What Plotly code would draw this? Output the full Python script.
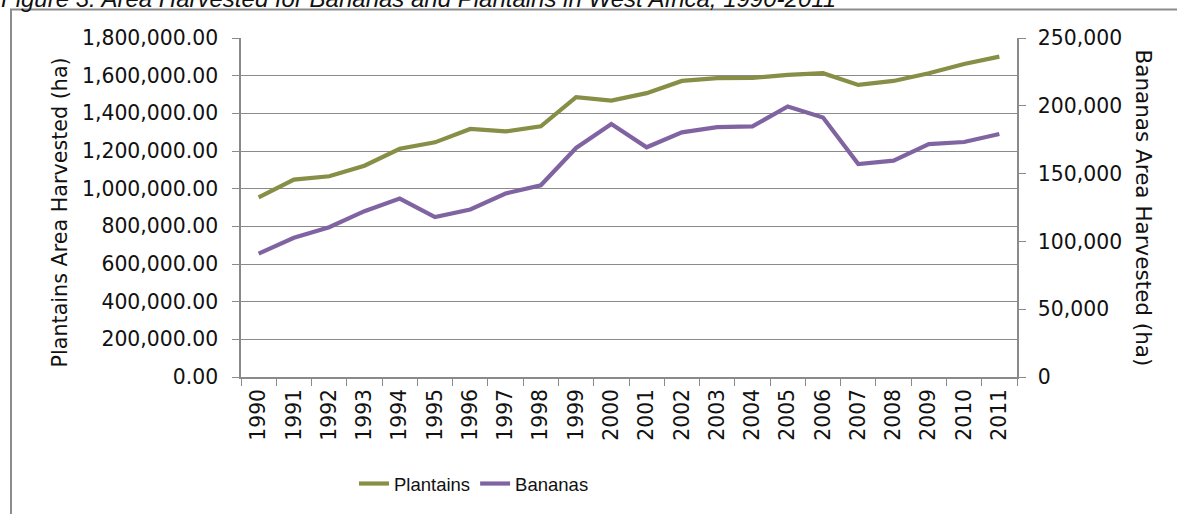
import plotly.graph_objects as go

years = [str(y) for y in range(1990, 2012)]
plantains = [954000, 1048000, 1066000, 1122000, 1212000, 1246000, 1317000, 1304000,
             1331000, 1486000, 1468000, 1507000, 1572000, 1587000, 1588000, 1604000,
             1613000, 1551000, 1572000, 1613000, 1662000, 1701000]
bananas = [91000, 102700, 110500, 122300, 131600, 117900, 123500, 135300, 141400,
           168900, 186500, 169400, 180400, 184300, 184800, 199500, 191400, 157100,
           159600, 171800, 173300, 179200]

left_ticks = list(range(0, 1800001, 200000))
right_ticks = list(range(0, 250001, 50000))

title_text = "Figure 3: Area Harvested for Bananas and Plantains in West Africa, 1990-2011"
left_title = "Plantains Area Harvested (ha)"
right_title = "Bananas Area Harvested (ha)"

W, H = 1177, 514
L, R, T, B = 241, 1017, 38, 378

def px(x):
    return (x - L) / (R - L)

def py(y):
    return (B - y) / (B - T)

GRID = "#8a8a8a"
TICKFONT = dict(family="DejaVu Sans", size=20.4, color="#111111")

fig = go.Figure()
fig.add_trace(go.Scatter(x=years, y=plantains, name="Plantains", mode="lines",
                         line=dict(color="#878E45", width=4.2), yaxis="y"))
fig.add_trace(go.Scatter(x=years, y=bananas, name="Bananas", mode="lines",
                         line=dict(color="#8064A2", width=4.2), yaxis="y2"))

fig.update_layout(
    width=W, height=H,
    margin=dict(l=L, r=W - R, t=T, b=H - B, pad=0),
    paper_bgcolor="white", plot_bgcolor="white",
    showlegend=True,
    legend=dict(orientation="h", x=px(474), xanchor="center", y=py(484), yanchor="middle",
                font=dict(family="Liberation Sans Narrow, Liberation Sans, Arial",
                          size=18.5, color="#111111"),
                bgcolor="rgba(0,0,0,0)", itemwidth=30, tracegroupgap=0),
    xaxis=dict(type="category", categoryorder="array", categoryarray=years,
               showgrid=False, showline=True, linecolor=GRID, linewidth=1.5,
               ticks="outside", ticklen=7, tickcolor=GRID, tickwidth=1.3,
               tickson="boundaries", tickangle=-90, tickfont=TICKFONT,
               ticklabelstandoff=2,
               range=[-0.5, len(years) - 0.5], fixedrange=True),
    yaxis=dict(range=[0, 1800000], tickvals=left_ticks, tickformat=",.2f",
               showgrid=True, gridcolor=GRID, gridwidth=1.3,
               showline=True, linecolor=GRID, linewidth=1.5,
               ticks="outside", ticklen=7, tickcolor=GRID, tickwidth=1.3,
               ticklabelstandoff=10, tickfont=TICKFONT, zeroline=False),
    yaxis2=dict(range=[0, 250000], tickvals=right_ticks, tickformat=",",
                overlaying="y", side="right", showgrid=False,
                showline=True, linecolor=GRID, linewidth=1.5,
                ticks="outside", ticklen=7, tickcolor=GRID, tickwidth=1.3,
                ticklabelstandoff=8, tickfont=TICKFONT, zeroline=False),
    shapes=[dict(type="rect", xref="paper", yref="paper",
                 x0=px(11), x1=px(1200), y0=py(540), y1=py(9.5),
                 line=dict(color="#8c8c8c", width=2), fillcolor="rgba(0,0,0,0)",
                 layer="below")],
    annotations=[
        dict(text=title_text, xref="paper", yref="paper", x=px(-1), y=py(-1.7),
             xanchor="left", yanchor="middle", showarrow=False,
             font=dict(family="Liberation Sans", size=24, color="#111111", style="italic")),
        dict(text=left_title, xref="paper", yref="paper", x=px(60), y=py(213),
             xanchor="center", yanchor="middle", textangle=-90, showarrow=False,
             font=dict(family="DejaVu Sans", size=20.7, color="#111111")),
        dict(text=right_title, xref="paper", yref="paper", x=px(1143), y=py(208),
             xanchor="center", yanchor="middle", textangle=90, showarrow=False,
             font=dict(family="DejaVu Sans", size=21.5, color="#111111")),
    ],
)

fig.write_html("out.html")
